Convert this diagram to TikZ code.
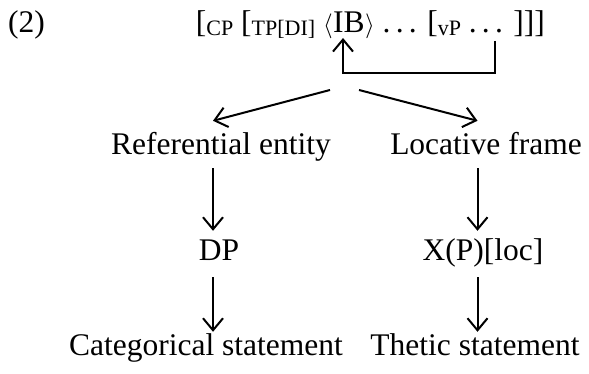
\documentclass[tikz,border=0pt]{standalone}
\usepackage{amsmath}
\usepackage{fontspec}
\setmainfont{Liberation Serif}
\usepackage{tikz}
\usetikzlibrary{calc, arrows.meta}

\newcommand{\sublab}[1]{\raisebox{-3pt}{\fontsize{22}{26}\selectfont #1}}
\newcommand{\dotsep}{.\,.\,.}

\begin{document}
\begin{tikzpicture}[x=1pt, y=-1pt]

        % Styles for texts and arrows
        \tikzset{word/.style={inner sep=0pt, text height=22pt, text depth=7pt, anchor=base, font=\fontsize{31.5}{38}\selectfont}}
        \tikzset{arr/.style={line width=2pt, -{Straight Barb[length=12pt, width=20pt, line width=2pt]}}}

        \useasboundingbox (0,0) rectangle (589,374);

        % =================================================================
        % 1. THE BRACKETED STRING WITH ITS MOVEMENT ARROW
        % =================================================================

        \node[word, anchor=base west] (ex) at (8,33) {(2)};
        \node[word, anchor=base west] (ib) at (333,33) {IB};
        \node[word, anchor=base east] (pre) at (ib.base west) {[\sublab{CP} [\sublab{TP[DI]} $\langle$};
        \node[word, anchor=base west] (post) at (ib.base east) {$\rangle$ \dotsep{} [\sublab{vP} \dotsep{} ]]]};

        % Define Coordinates
        \coordinate (vpend) at (495,41);
        \coordinate (forkL) at (330,90);
        \coordinate (forkR) at (359,90);
        \coordinate (colL) at (213,0);
        \coordinate (colR) at (477.5,0);

        % vP up to IB
        \draw[arr] (vpend) -- ++(0,32) -| ($(ib.base west)+(10,5)$);

        % =================================================================
        % 2. THE TWO BRANCHES
        % =================================================================

        % Label the nodes
        \node[word] (ref) at (221,155) {Referential entity};
        \node[word] (loc) at (486,155) {Locative frame};
        \node[word] (dp) at (219,260) {DP};
        \node[word] (xp) at (483,260) {X(P)[loc]};
        \node[word] (cat) at (206,355) {Categorical statement};
        \node[word] (thet) at (475,355) {Thetic statement};

        % Fork below IB
        \draw[arr] (forkL) -- ($(ref.north -| colL)+(0,-12)$);
        \draw[arr] (forkR) -- ($(loc.north -| colR)+(0,-12)$);

        % Left branch
        \draw[arr] ($(ref.south -| colL)+(0,6)$) -- ($(dp.north -| colL)+(0,-7)$);
        \draw[arr] ($(dp.south -| colL)+(0,10)$) -- ($(cat.north -| colL)+(0,-1)$);

        % Right branch
        \draw[arr] ($(loc.south -| colR)+(0,6)$) -- ($(xp.north -| colR)+(0,-7)$);
        \draw[arr] ($(xp.south -| colR)+(0,10)$) -- ($(thet.north -| colR)+(0,-1)$);

\end{tikzpicture}
\end{document}
